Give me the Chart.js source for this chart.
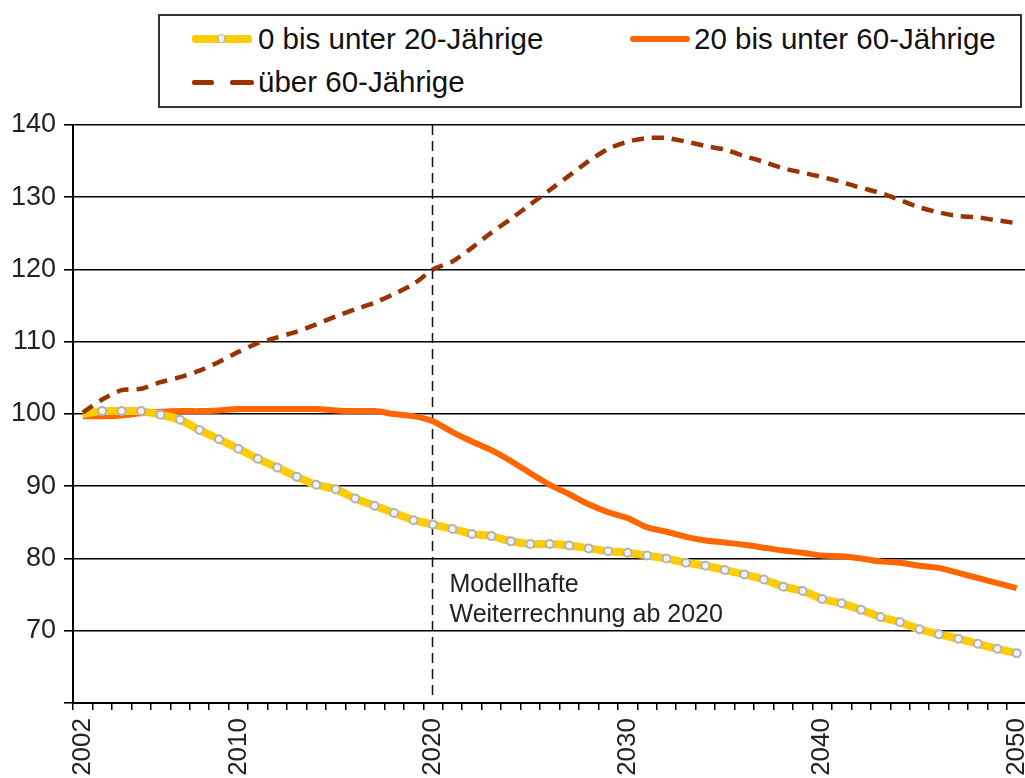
<!DOCTYPE html>
<html>
<head>
<meta charset="utf-8">
<script src="https://cdn.jsdelivr.net/npm/chart.js@4/dist/chart.umd.min.js"></script>
<style>
  html, body { margin: 0; padding: 0; background: #fff; overflow: hidden; }
  #wrap { position: relative; width: 1025px; height: 778px; overflow: hidden; }
  #chart { position: absolute; left: 0; top: 0; }
  #legend {
    position: absolute; left: 158px; top: 14px; width: 860px; height: 90px;
    border: 2px solid #333; background: #fff; z-index: 2;
    font-family: "Liberation Sans", Arial, sans-serif; font-size: 29.5px; color: #111;
  }
  .item { position: absolute; height: 34px; line-height: 34px; white-space: nowrap; }
  .sample { position: absolute; top: 50%; }
  .txt { position: absolute; left: 66px; top: 0; }
</style>
</head>
<body>
<div id="wrap">
  <canvas id="chart" width="1056" height="778"></canvas>
  <div id="legend"></div>
</div>
<script>
// Index 2002 = 100
const years = [2002, 2003, 2004, 2005, 2006, 2007, 2008, 2009, 2010, 2011,
  2012, 2013, 2014, 2015, 2016, 2017, 2018, 2019, 2020, 2021,
  2022, 2023, 2024, 2025, 2026, 2027, 2028, 2029, 2030, 2031,
  2032, 2033, 2034, 2035, 2036, 2037, 2038, 2039, 2040, 2041,
  2042, 2043, 2044, 2045, 2046, 2047, 2048, 2049, 2050];

const labeledYears = [2002, 2010, 2020, 2030, 2040, 2050];

const under20 = [100.0, 100.4, 100.4, 100.4, 99.9, 99.2, 97.8, 96.5, 95.2, 93.8,
  92.6, 91.3, 90.2, 89.6, 88.3, 87.3, 86.3, 85.3, 84.7, 84.1,
  83.4, 83.1, 82.4, 82.0, 82.0, 81.8, 81.4, 81.0, 80.8, 80.4,
  80.0, 79.4, 79.0, 78.4, 77.8, 77.1, 76.1, 75.5, 74.4, 73.8,
  72.9, 71.9, 71.2, 70.2, 69.5, 68.9, 68.2, 67.5, 66.9];

const from20to60 = [99.7, 99.7, 99.8, 100.1, 100.3, 100.4, 100.4, 100.5, 100.7, 100.7,
  100.7, 100.7, 100.7, 100.5, 100.4, 100.4, 100.0, 99.7, 99.0, 97.5,
  96.2, 95.0, 93.5, 91.8, 90.2, 88.9, 87.5, 86.4, 85.6, 84.3,
  83.7, 83.0, 82.5, 82.2, 81.9, 81.5, 81.1, 80.8, 80.4, 80.3,
  80.0, 79.6, 79.4, 79.0, 78.7, 78.0, 77.3, 76.6, 75.9];

const over60 = [100.2, 102.0, 103.3, 103.5, 104.4, 105.1, 106.0, 107.2, 108.6, 109.8,
  110.6, 111.4, 112.4, 113.5, 114.5, 115.4, 116.6, 118.0, 120.0, 121.1,
  123.0, 125.1, 127.0, 129.0, 131.0, 133.0, 135.0, 136.7, 137.7, 138.2,
  138.2, 137.7, 137.1, 136.6, 135.7, 134.9, 134.0, 133.4, 132.8, 132.1,
  131.3, 130.6, 129.6, 128.6, 127.9, 127.4, 127.2, 126.8, 126.4];

const seriesNames = ['0 bis unter 20-Jährige', '20 bis unter 60-Jährige', 'über 60-Jährige'];
const yTicks = [70, 80, 90, 100, 110, 120, 130, 140];

const projectionYear = 2020;
const noteLines = ['Modellhafte', 'Weiterrechnung ab 2020'];
const noteValue = 75.4;

const FONT = '"Liberation Sans", Arial, sans-serif';

// dashed marker line + note
const projectionLine = {
  id: 'projectionLine',
  beforeDatasetsDraw(chart) {
    const { ctx, chartArea, scales } = chart;
    const x = Math.round(scales.x.getPixelForValue(years.indexOf(projectionYear))) - 0.5;
    ctx.save();
    ctx.strokeStyle = '#111';
    ctx.lineWidth = 1.5;
    ctx.setLineDash([10, 6]);
    ctx.beginPath();
    ctx.moveTo(x, chartArea.top);
    ctx.lineTo(x, chartArea.bottom - 5);
    ctx.stroke();
    ctx.setLineDash([]);
    ctx.fillStyle = '#222';
    ctx.font = '25px ' + FONT;
    ctx.textBaseline = 'alphabetic';
    const y = scales.y.getPixelForValue(noteValue);
    noteLines.forEach((t, i) => ctx.fillText(t, x + 17, y + i * 30));
    ctx.restore();
  }
};

const ctx = document.getElementById('chart').getContext('2d');
const myChart = new Chart(ctx, {
  type: 'line',
  data: {
    labels: years,
    datasets: [
      {
        label: seriesNames[0],
        data: under20,
        borderColor: '#FFCC00',
        borderWidth: 8,
        tension: 0.2,
        pointRadius: c => (c.dataIndex === 0 ? 0 : 4),
        pointBorderWidth: 2,
        pointBorderColor: '#b3b3b3',
        pointBackgroundColor: '#f2f2f2',
        order: 1
      },
      {
        label: seriesNames[1],
        data: from20to60,
        borderColor: '#FF6600',
        borderWidth: 6,
        tension: 0.2,
        pointRadius: 0,
        order: 2
      },
      {
        label: seriesNames[2],
        data: over60,
        borderColor: '#993300',
        borderWidth: 4.5,
        borderDash: [12, 8],
        tension: 0.2,
        pointRadius: 0,
        order: 0
      }
    ]
  },
  options: {
    responsive: false,
    animation: false,
    events: [],
    layout: { autoPadding: false, padding: { top: 125, right: 4, left: 0, bottom: 0 } },
    plugins: { legend: { display: false }, tooltip: { enabled: false } },
    scales: {
      x: {
        type: 'category',
        offset: true,
        afterFit: s => { s.height = 75; },
        grid: {
          offset: true,
          drawOnChartArea: false,
          color: '#000',
          lineWidth: 1.5,
          tickLength: 7
        },
        border: { color: '#000', width: 2 },
        ticks: {
          autoSkip: false,
          minRotation: 90,
          maxRotation: 90,
          padding: 8,
          color: '#222',
          font: { family: FONT, size: 26 },
          callback: function (v, i) {
            return labeledYears.includes(years[i]) ? String(years[i]) : '';
          }
        }
      },
      y: {
        min: 60,
        max: 140,
        afterFit: s => { s.width = 73; },
        afterBuildTicks: s => { s.ticks = [60].concat(yTicks).map(v => ({ value: v })); },
        grid: { color: '#000', lineWidth: 1.6, tickLength: 9 },
        border: { color: '#000', width: 2 },
        ticks: {
          padding: 8,
          color: '#222',
          font: { family: FONT, size: 27 },
          callback: v => (yTicks.includes(v) ? String(v) : '')
        }
      }
    }
  },
  plugins: [projectionLine]
});

// legend box
const legend = document.getElementById('legend');
function addItem(left, top, name, sampleHtml) {
  const d = document.createElement('div');
  d.className = 'item';
  d.style.left = left + 'px';
  d.style.top = top + 'px';
  d.innerHTML = sampleHtml + '<span class="txt"></span>';
  d.querySelector('.txt').textContent = name;
  legend.appendChild(d);
}
addItem(32, 6, seriesNames[0],
  '<div class="sample" style="left:0;width:60px;height:8px;margin-top:-4px;background:#FFCC00;border-radius:3px"></div>' +
  '<div class="sample" style="left:26px;width:5px;height:7px;margin-top:-5px;background:#f2f2f2;border:1.5px solid #b3b3b3;border-radius:3px"></div>');
addItem(468, 6, seriesNames[1],
  '<div class="sample" style="left:2px;width:60px;height:6px;margin-top:-3px;background:#FF6600;border-radius:3px"></div>');
addItem(32, 49, seriesNames[2],
  '<div class="sample" style="left:0;width:22px;height:5px;margin-top:-2px;background:#993300;border-radius:2px"></div>' +
  '<div class="sample" style="left:38px;width:24px;height:5px;margin-top:-2px;background:#993300;border-radius:2px"></div>');
</script>
</body>
</html>
